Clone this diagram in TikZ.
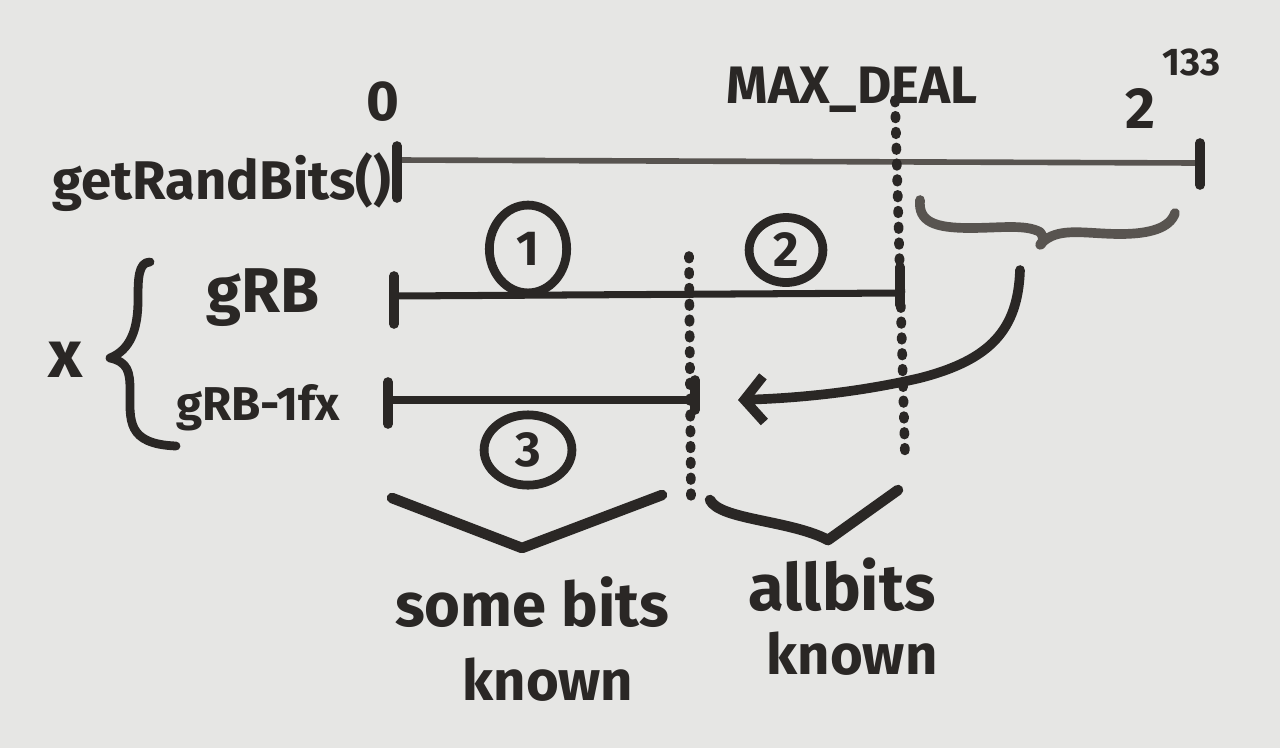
\documentclass[tikz,border=0pt]{standalone}
\usepackage{fontspec}
\setmainfont{Fira Sans}
\usetikzlibrary{arrows.meta,shapes.geometric}
\definecolor{board}{RGB}{230,230,228}
\definecolor{ink}{RGB}{42,39,37}
\definecolor{inkgrey}{RGB}{88,84,80}
\tikzset{
  hand/.style={text=ink, font=\bfseries\fontsize{30}{30}\selectfont, inner sep=0pt},
  handsmall/.style={hand, font=\bfseries\fontsize{22}{22}\selectfont},
  axisline/.style={draw=ink, line width=4pt, line cap=round},
  thinaxis/.style={draw=inkgrey, line width=3.2pt, line cap=round},
  tickmark/.style={draw=ink, line width=5.5pt, line cap=round},
  dotline/.style={draw=ink, line width=5.5pt, line cap=round, dash pattern=on 1.5pt off 7.5pt},
  marker/.style={draw=ink, line width=6pt, line cap=round, line join=round},
  circ/.style={ellipse, draw=ink, line width=5pt, text=ink, font=\bfseries\fontsize{28}{28}\selectfont, inner sep=0pt}
}
\begin{document}
\begin{tikzpicture}[x=0.02cm, y=-0.02cm]
\fill[board] (0,0) rectangle (1280,748);
\useasboundingbox (0,0) rectangle (1280,748);

% labels
\node[hand, font=\bfseries\fontsize{32}{32}\selectfont] (zero) at (383,102) {0};
\node[hand] (maxdeal) at (852,90) {MAX\_DEAL};
\node[hand, font=\bfseries\fontsize{33}{33}\selectfont] (two) at (1140,108) {2};
\node[handsmall] (exp) at (1192,62) {133};
\node[hand, font=\bfseries\fontsize{31}{31}\selectfont] (grbits) at (222,182) {getRandBits()};
\node[hand, font=\bfseries\fontsize{36}{36}\selectfont] (grb) at (263,298) {gRB};
\node[hand, font=\bfseries\fontsize{27}{27}\selectfont] (grbone) at (258,408) {gRB-1fx};
\node[hand, font=\bfseries\fontsize{38}{38}\selectfont] (xvar) at (66,360) {x};

% circled numbers
\node[circ, minimum width=44pt, minimum height=50pt] (c1) at (528,249) {1};
\node[circ, minimum width=42pt, minimum height=37pt] (c2) at (786,250) {2};
\node[circ, minimum width=50pt, minimum height=40pt] (c3) at (528,450) {3};

% bottom labels
\node[hand, font=\bfseries\fontsize{35}{35}\selectfont] (somebits) at (532,602) {some bits};
\node[hand, font=\bfseries\fontsize{32}{32}\selectfont] (knownA) at (548,680) {known};
\node[hand, font=\bfseries\fontsize{37}{37}\selectfont] (allbits) at (842,585) {allbits};
\node[hand, font=\bfseries\fontsize{32}{32}\selectfont] (knownB) at (852,654) {known};

% getRandBits() range
\coordinate (a0) at (397,160);
\coordinate (a1) at (1200,163);
\draw[thinaxis] (a0) -- (a1);
\draw[tickmark] (a0) ++(0,-14) -- ++(0,52);
\draw[tickmark] (a1) ++(0,-20) -- ++(0,42);

% gRB range
\coordinate (b0) at (394,296);
\coordinate (b1) at (900,293);
\draw[axisline] (b0) -- (b1);
\draw[tickmark] (b0) ++(0,-20) -- ++(0,48);
\draw[tickmark] (b1) ++(0,-26) -- ++(0,38);

% gRB-1fx range
\coordinate (g0) at (388,400);
\coordinate (g1) at (695,400);
\draw[axisline] (g0) -- (g1);
\draw[tickmark] (g0) ++(0,-18) -- ++(0,42);
\draw[tickmark] (g1) ++(0,-20) -- ++(0,30);

% dotted verticals
\coordinate (m0) at (895,100);
\coordinate (m1) at (905,455);
\draw[dotline] (m0) -- (m1);
\coordinate (d0) at (689,256);
\coordinate (d1) at (691,500);
\draw[dotline] (d0) -- (d1);

% brace under top-right part
\coordinate (tb0) at (920,200);
\coordinate (tb1) at (1175,213);
\draw[marker, draw=inkgrey, line width=5.5pt] (tb0) .. controls (918,222) and (935,228) .. (970,228)
  .. controls (1000,228) and (1025,224) .. (1040,232)
  .. controls (1050,245) and (1030,250) .. (1048,238)
  .. controls (1065,228) and (1090,234) .. (1120,234)
  .. controls (1150,234) and (1170,228) .. (tb1);

% curved arrow
\coordinate (ar0) at (1020,270);
\coordinate (ar1) at (738,400);
\draw[marker, line width=5.5pt, -{Straight Barb[length=11pt, width=26pt, line width=5.5pt]}]
  (ar0) .. controls (1018,330) and (990,360) .. (920,378)
  .. controls (860,392) and (800,398) .. (ar1);

% left brace for x
\coordinate (lb0) at (150,262);
\coordinate (lbt) at (110,358);
\coordinate (lb1) at (176,446);
\draw[marker, line width=5pt] (lb0) .. controls (138,262) and (138,280) .. (138,300)
  .. controls (138,330) and (130,350) .. (lbt)
  .. controls (128,362) and (130,372) .. (130,390)
  .. controls (130,420) and (126,444) .. (lb1);

% bottom braces
\coordinate (sb0) at (392,498);
\coordinate (sbt) at (522,548);
\coordinate (sb1) at (662,495);
\draw[marker] (sb0) -- (sbt) -- (sb1);
\coordinate (ab0) at (710,500);
\coordinate (abt) at (828,540);
\coordinate (ab1) at (898,490);
\draw[marker] (ab0) .. controls (720,520) and (790,520) .. (abt) -- (ab1);
\end{tikzpicture}
\end{document}
